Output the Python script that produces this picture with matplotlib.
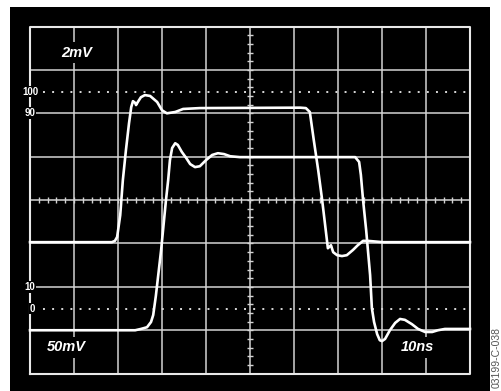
import numpy as np
import matplotlib
matplotlib.use('Agg')
import matplotlib.pyplot as plt

# Upper trace (output, 2mV/div) - time in ns, level in divisions
out_t = [0, 18.6, 19.3, 19.8, 20.5, 21.1, 21.8, 22.5, 23.0, 23.4, 23.9, 24.1, 24.5,
         25.2, 26.1, 27.3, 28.9, 30.0, 31.1, 33.0, 34.8, 38.6, 61.4, 62.7, 63.6,
         64.5, 65.5, 66.4, 67.0, 67.7, 68.4, 68.9, 69.8, 70.9, 72.0, 73.4, 74.5,
         75.7, 76.8, 80.2, 100]
out_v = [-0.97, -0.97, -0.94, -0.85, -0.35, 0.46, 1.15, 1.77, 2.14, 2.28, 2.24, 2.19, 2.26,
         2.37, 2.42, 2.40, 2.26, 2.07, 2.00, 2.03, 2.10, 2.12, 2.13, 2.12, 2.03,
         1.38, 0.69, 0.0, -0.51, -1.11, -1.04, -1.20, -1.27, -1.29, -1.27, -1.15, -1.04,
         -0.94, -0.94, -0.97, -0.97]

# Lower trace (input, 50mV/div)
in_t = [0, 23.9, 25.2, 26.6, 27.5, 28.0, 28.6, 29.8, 30.9, 31.4, 31.8, 32.3, 33.0,
        33.6, 34.5, 35.5, 36.4, 37.5, 38.6, 40.0, 41.4, 42.7, 44.1, 45.5, 47.7,
        73.9, 74.8, 75.2, 75.7, 76.4, 77.3, 77.7, 78.2, 78.9, 79.5, 80.0, 80.7,
        81.8, 83.0, 84.1, 85.2, 86.8, 88.2, 89.8, 91.4, 92.7, 94.3, 100]
in_v = [-3.0, -3.0, -2.97, -2.93, -2.81, -2.65, -2.21, -1.15, 0.0, 0.46, 0.92, 1.20, 1.31,
        1.27, 1.11, 0.97, 0.83, 0.76, 0.78, 0.92, 1.04, 1.08, 1.06, 1.01, 0.99,
        0.99, 0.88, 0.58, 0.0, -0.69, -1.73, -2.49, -2.81, -3.09, -3.23, -3.25, -3.20,
        -3.0, -2.83, -2.74, -2.76, -2.86, -2.97, -3.04, -3.04, -3.0, -2.97, -2.97]

level_labels = ['100', '90', '10', '0']
level_pos = [2.5, 2.0, -2.0, -2.5]

W, H = 501, 391
fig = plt.figure(figsize=(W / 100, H / 100), dpi=100)
fig.patch.set_facecolor('white')
ax = fig.add_axes([10 / W, 0, 480 / W, 384 / H])
ax.set_facecolor('black')
ax.set_xlim(-4.55, 104.55)
ax.set_ylim(-4.40, 4.45)
ax.set_xticks([])
ax.set_yticks([])
for s in ax.spines.values():
    s.set_visible(False)

grid_c = '#d4d4d4'
# graticule
for x in range(10, 100, 10):
    ax.plot([x, x], [-4, 4], color=grid_c, lw=1.1, zorder=1)
for y in range(-3, 4):
    ax.plot([0, 100], [y, y], color=grid_c, lw=1.1, zorder=1)
ax.plot([0, 100, 100, 0, 0], [-4, -4, 4, 4, -4], color='#e8e8e8', lw=1.5, zorder=1)

# minor ticks on centre lines
tx = np.arange(2, 100, 2)
ax.vlines(tx, -0.07, 0.07, color=grid_c, lw=1.0, zorder=1)
ty = np.arange(-3.8, 4.0, 0.2)
ax.hlines(ty, 50 - 0.68, 50 + 0.68, color=grid_c, lw=1.0, zorder=1)

# dotted 0% / 100% levels
for y in (2.5, -2.5):
    ax.plot([2.9, 99], [y, y], color='#d8d8d8', lw=1.4, dashes=(1.0, 3.7), zorder=1)

# level labels on the left
for lab, y in zip(level_labels, level_pos):
    ax.text(2.0 if lab == '100' else 1.2, y, lab, ha='right', va='center',
            color='white', fontsize=7, fontweight='bold', family='Liberation Sans',
            bbox=dict(facecolor='black', edgecolor='none', pad=0.6), zorder=3)

# traces
ax.plot(out_t, out_v, color='white', lw=1.9, solid_joinstyle='round', zorder=4)
ax.plot(in_t, in_v, color='white', lw=1.9, solid_joinstyle='round', zorder=4)

txt = dict(color='white', fontsize=10.5, fontweight='bold', fontstyle='italic',
           family='Liberation Sans', ha='center', va='center', zorder=5,
           bbox=dict(facecolor='black', edgecolor='none', pad=2.5))
ax.text(10.5, 3.39, '2mV', **txt)
ax.text(8.2, -3.39, '50mV', **txt)
ax.text(88.0, -3.39, '10ns', **txt)

fig.text(497 / W, 1 - 358 / H, '03199-C-038', rotation=90, ha='center', va='center',
         color='#555555', fontsize=7.5, family='Liberation Sans')

fig.savefig('out.png', dpi=100, facecolor='white')
plt.close(fig)
